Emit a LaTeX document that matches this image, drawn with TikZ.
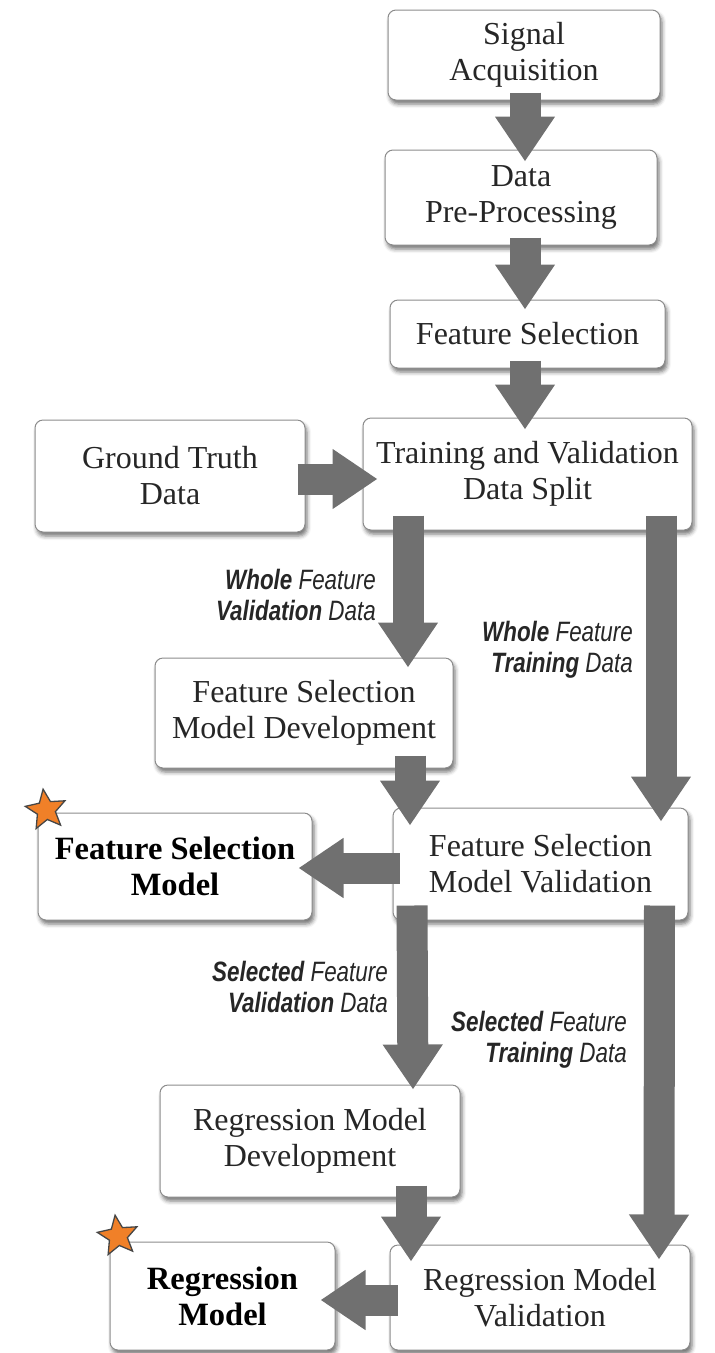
\documentclass[tikz,border=0pt]{standalone}
\usepackage{fontspec}
\setmainfont{Liberation Serif}
\newfontfamily\labfont[FakeStretch=0.8]{Liberation Sans}
\usetikzlibrary{arrows.meta,shapes.geometric,shadows.blur,calc}
\definecolor{arrowcol}{RGB}{112,112,112}
\definecolor{boxborder}{RGB}{140,140,140}
\definecolor{textcol}{RGB}{38,38,38}
\definecolor{starfill}{RGB}{240,128,40}
\definecolor{stardraw}{RGB}{70,70,70}
\tikzset{
  box/.style={draw=boxborder, line width=1pt, rounded corners=8pt, fill=white,
    align=center, inner sep=0pt, text=textcol, font=\fontsize{32}{36}\selectfont,
    blur shadow={shadow xshift=2pt, shadow yshift=-4pt, shadow blur radius=4pt, shadow opacity=55}},
  bbox/.style={box, text=black, font=\fontsize{32.5}{36}\selectfont\bfseries},
  bigarrow/.style={draw=arrowcol, line width=31pt, -{Triangle[width=57pt,length=45pt]}},
  lab/.style={align=right, inner sep=0pt, text=textcol, font=\labfont\itshape\fontsize{28}{30.5}\selectfont},
  starmark/.style={star, star points=5, star point ratio=2.2, minimum size=42pt, inner sep=0pt,
    fill=starfill, draw=stardraw, line width=1.3pt, rotate=8}
}
\begin{document}
\begin{tikzpicture}[x=1pt,y=-1pt]
\useasboundingbox (0,0) rectangle (715,1353);
% boxes
\node[box, minimum width=272pt, minimum height=90pt]  (sig)  at (524,55)     {Signal\\Acquisition};
\node[box, minimum width=272pt, minimum height=95pt]  (pre)  at (521,197.5)  {Data\\Pre-Processing};
\node[box, minimum width=275pt, minimum height=68pt]  (fs)   at (527.5,334)  {Feature Selection};
\node[box, minimum width=270pt, minimum height=112pt] (gt)   at (170,476)    {Ground Truth\\Data};
\node[box, minimum width=329pt, minimum height=112pt] (tv)   at (527.5,474)  {Training and Validation\\Data Split};
\node[box, minimum width=298pt, minimum height=110pt] (fsmd) at (304,713)    {Feature Selection\\Model Development};
\node[bbox, minimum width=274pt, minimum height=107pt] (fsm) at (175,866.5)  {Feature Selection\\Model};
\node[box, minimum width=295pt, minimum height=112pt] (fsmv) at (540.5,864)  {Feature Selection\\Model Validation};
\node[box, minimum width=300pt, minimum height=112pt] (rmd)  at (310,1141)   {Regression Model\\Development};
\node[bbox, minimum width=225pt, minimum height=108pt] (rm)  at (222.5,1296) {Regression\\Model};
\node[box, minimum width=300pt, minimum height=105pt] (rmv)  at (540,1297.5) {Regression Model\\Validation};
% stars
\node[starmark] (s1) at (46,810) {};
\node[starmark] (s2) at (118,1236) {};
% arrows
\draw[bigarrow] ($(sig.south)+(1,-8)$) -- ($(pre.north)+(4,12)$);
\draw[bigarrow] ($(pre.south)+(4,-8)$) -- ($(fs.north)+(-2.5,10)$);
\draw[bigarrow] ($(fs.south)+(-2.5,-8)$) -- ($(tv.north)+(-2.5,12)$);
\draw[bigarrow] ($(gt.east)+(-8,3)$) -- ($(tv.west)+(15,5)$);
\draw[bigarrow] ($(tv.south)+(-119.5,-15)$) -- ($(fsmd.north)+(104,10)$);
\draw[bigarrow] ($(tv.south)+(133.5,-15)$) -- ($(fsmv.north)+(120.5,14)$);
\draw[bigarrow] ($(fsmd.south)+(106,-13)$) -- ($(fsmv.north)+(-130.5,18)$);
\draw[bigarrow] ($(fsmv.west)+(7,4)$) -- ($(fsm.east)+(-14,1.5)$);
\draw[bigarrow] ($(fsmv.south)+(-128.5,-15)$) -- ($(rmd.north)+(103,5)$);
\draw[bigarrow] ($(fsmv.south)+(119,-15)$) -- ($(rmv.north)+(119,15)$);
\draw[bigarrow] ($(rmd.south)+(101,-12)$) -- ($(rmv.north)+(-129,17)$);
\draw[bigarrow] ($(rmv.west)+(8,2.5)$) -- ($(rm.east)+(-15,4)$);
% labels
\node[lab, anchor=north east] (l1) at (376,569) {\textbf{Whole} Feature\\\textbf{Validation} Data};
\node[lab, anchor=north east] (l2) at (633,621) {\textbf{Whole} Feature\\\textbf{Training} Data};
\node[lab, anchor=north east] (l3) at (388,961) {\textbf{Selected} Feature\\\textbf{Validation} Data};
\node[lab, anchor=north east] (l4) at (627,1011) {\textbf{Selected} Feature\\\textbf{Training} Data};
\end{tikzpicture}
\end{document}
